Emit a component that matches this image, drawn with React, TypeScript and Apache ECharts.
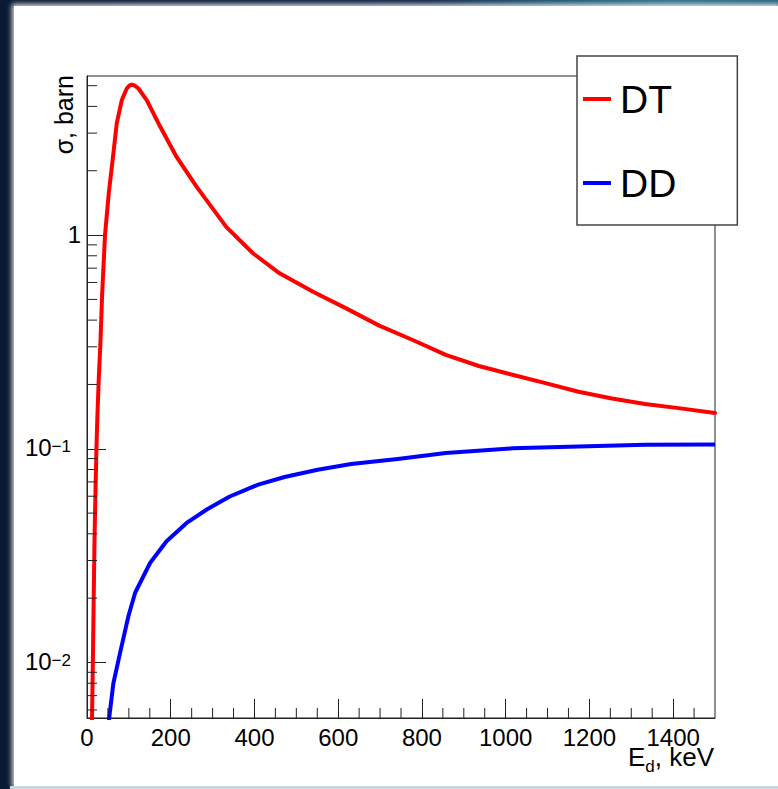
import React, { useEffect, useRef } from 'react';
import * as echarts from 'echarts';

// DT cross section (red)
const energyDT = [10, 12, 14, 16, 18, 20, 22.5, 25, 28, 32, 36, 43, 52, 63, 71, 83, 95, 101, 107, 114, 123, 143, 175, 214, 262, 333, 397, 460, 540, 619, 698, 778, 857, 936, 1016, 1095, 1174, 1254, 1333, 1413, 1500];
const sigmaDT = [0.003, 0.0055, 0.01, 0.02, 0.038, 0.06, 0.1, 0.145, 0.21, 0.31, 0.52, 1.0, 1.57, 2.41, 3.33, 4.27, 4.85, 5.0, 5.06, 5.0, 4.85, 4.27, 3.21, 2.32, 1.68, 1.09, 0.82, 0.662, 0.543, 0.454, 0.377, 0.323, 0.275, 0.244, 0.222, 0.203, 0.185, 0.172, 0.162, 0.155, 0.147];

// DD cross section (blue)
const energyDD = [50, 53, 63, 79, 99, 115, 151, 190, 238, 286, 341, 409, 472, 551, 631, 742, 857, 1016, 1174, 1333, 1500];
const sigmaDD = [0.0048, 0.0055, 0.008, 0.0111, 0.0165, 0.0212, 0.0293, 0.0369, 0.045, 0.052, 0.0598, 0.068, 0.0738, 0.0798, 0.0849, 0.0895, 0.0955, 0.1005, 0.1025, 0.1044, 0.1046];

const seriesNames = ['DT', 'DD'];

// axis ranges and minor ticks
const xMin = 0;
const xMax = 1500;
const xInterval = 200;
const yMin = 0.0055;
const yMax = 5.55;
const xMinorTicks = [50, 100, 150, 250, 300, 350, 450, 500, 550, 650, 700, 750, 850, 900, 950, 1050, 1100, 1150, 1250, 1300, 1350, 1450];
const yMinorTicks = [0.006, 0.007, 0.008, 0.009, 0.02, 0.03, 0.04, 0.05, 0.06, 0.07, 0.08, 0.09, 0.2, 0.3, 0.4, 0.5, 0.6, 0.7, 0.8, 0.9, 2, 3, 4, 5];

const xTitleMain = 'E';
const xTitleSub = 'd';
const xTitleRest = ', keV';
const yTitle = '\u03c3, barn';

const FONT = "'Liberation Sans', Arial, Helvetica, sans-serif";
const AXIS = '#222';

function measure(text: string, size: number): number {
  const c = document.createElement('canvas');
  const ctx = c.getContext('2d');
  if (!ctx) return text.length * size * 0.55;
  ctx.font = `${size}px ${FONT}`;
  return ctx.measureText(text).width;
}

export default function App() {
  const ref = useRef<HTMLDivElement>(null);

  useEffect(() => {
    if (!ref.current) return;
    const chart = echarts.init(ref.current, null, { renderer: 'svg' });

    const yLabel = (v: number) => {
      const l = Math.log10(v);
      const e = Math.round(l);
      if (Math.abs(l - e) > 1e-6) return '';
      if (e === 0) return '{n|1}';
      return '{n|10}{s|\u2212' + Math.abs(e) + '}';
    };

    // x title pieces (right aligned at the plot's right edge)
    const titleSize = 26;
    const subSize = 17;
    const right = 714;
    const baseline = 766;
    const wRest = measure(xTitleRest, titleSize);
    const wSub = measure(xTitleSub, subSize);
    const midMain = baseline - 0.3465 * titleSize;
    const midSub = baseline + 6 - 0.3465 * subSize;

    chart.setOption({
      animation: false,
      backgroundColor: 'transparent',
      grid: {
        left: 87,
        top: 76,
        right: 63,
        bottom: 71,
        show: true,
        borderColor: AXIS,
        borderWidth: 1,
        backgroundColor: 'transparent',
        containLabel: false,
        outerBoundsMode: 'none',
      },
      xAxis: {
        type: 'value',
        min: xMin,
        max: xMax,
        interval: xInterval,
        axisLine: { show: true, onZero: false, lineStyle: { color: AXIS, width: 1 } },
        axisTick: { show: true, inside: true, length: 19, lineStyle: { color: AXIS, width: 1 } },
        axisLabel: {
          fontSize: 24,
          lineHeight: 18,
          color: '#000',
          fontFamily: FONT,
          margin: 10,
          showMaxLabel: false,
          formatter: (v: number) => String(v),
        },
        splitLine: { show: false },
      },
      yAxis: {
        type: 'log',
        logBase: 10,
        min: yMin,
        max: yMax,
        axisLine: { show: true, lineStyle: { color: AXIS, width: 1 } },
        axisTick: { show: true, inside: true, length: 19, lineStyle: { color: AXIS, width: 1 } },
        axisLabel: {
          margin: 6,
          showMinLabel: false,
          showMaxLabel: false,
          formatter: yLabel,
          rich: {
            n: { fontSize: 24, lineHeight: 22, fontFamily: FONT, color: '#000', padding: [5, 0, 0, 0], verticalAlign: 'bottom' },
            s: { fontSize: 17, lineHeight: 16, fontFamily: FONT, color: '#000', padding: [0, 10, 0, 0], verticalAlign: 'top' },
          },
        },
        splitLine: { show: false },
        minorTick: { show: false },
      },
      legend: {
        data: seriesNames,
        orient: 'vertical',
        left: 577,
        top: 56,
        icon: 'rect',
        itemWidth: 28,
        itemHeight: 4,
        itemGap: 44,
        padding: [23, 61, 22, 6],
        backgroundColor: '#fff',
        borderColor: '#444',
        borderWidth: 1.5,
        selectedMode: false,
        textStyle: { fontSize: 39, color: '#000', fontFamily: FONT, lineHeight: 40, padding: [0, 0, 0, 4] },
        z: 10,
      },
      graphic: [
        {
          type: 'text',
          x: 64,
          y: 75,
          rotation: Math.PI / 2,
          style: { text: yTitle, fontSize: 25, fontFamily: FONT, fill: '#000', align: 'right', verticalAlign: 'middle' },
        },
        {
          type: 'text',
          x: right,
          y: midMain,
          style: { text: xTitleRest, fontSize: titleSize, fontFamily: FONT, fill: '#000', align: 'right', verticalAlign: 'middle' },
        },
        {
          type: 'text',
          x: right - wRest,
          y: midSub,
          style: { text: xTitleSub, fontSize: subSize, fontFamily: FONT, fill: '#000', align: 'right', verticalAlign: 'middle' },
        },
        {
          type: 'text',
          x: right - wRest - wSub,
          y: midMain,
          style: { text: xTitleMain, fontSize: titleSize, fontFamily: FONT, fill: '#000', align: 'right', verticalAlign: 'middle' },
        },
      ],
      series: [
        {
          name: seriesNames[0],
          type: 'line',
          data: energyDT.map((e, i) => [e, sigmaDT[i]]),
          showSymbol: false,
          symbol: 'none',
          smooth: false,
          clip: true,
          color: '#ff0000',
          lineStyle: { color: '#ff0000', width: 4, join: 'round', cap: 'round' },
          z: 2,
        },
        {
          name: seriesNames[1],
          type: 'line',
          data: energyDD.map((e, i) => [e, sigmaDD[i]]),
          showSymbol: false,
          symbol: 'none',
          smooth: false,
          clip: true,
          color: '#0000ff',
          lineStyle: { color: '#0000ff', width: 4, join: 'round' },
          z: 2,
        },
        {
          type: 'custom',
          coordinateSystem: 'cartesian2d',
          silent: true,
          data: yMinorTicks.map((v) => [xMin, v]),
          encode: { x: 0, y: 1 },
          renderItem: (_p: any, api: any) => {
            const p = api.coord([xMin, api.value(1)]);
            return {
              type: 'line',
              shape: { x1: p[0], y1: p[1], x2: p[0] + 10, y2: p[1] },
              style: { stroke: AXIS, lineWidth: 1 },
            };
          },
          z: 3,
        },
        {
          type: 'custom',
          coordinateSystem: 'cartesian2d',
          silent: true,
          data: xMinorTicks.map((v) => [v, yMin]),
          encode: { x: 0, y: 1 },
          renderItem: (_p: any, api: any) => {
            const p = api.coord([api.value(0), yMin]);
            return {
              type: 'line',
              shape: { x1: p[0], y1: p[1], x2: p[0], y2: p[1] - 10 },
              style: { stroke: AXIS, lineWidth: 1 },
            };
          },
          z: 3,
        },
      ],
    });

    return () => chart.dispose();
  }, []);

  return (
    <div style={{ position: 'absolute', left: 0, top: 0, width: 778, height: 789, overflow: 'hidden', background: '#0b1a34' }}>
      <div
        style={{
          position: 'absolute', left: 0, top: 0, width: 778, height: 10,
          background: 'linear-gradient(to right, #0b1a34 0%, #0e2443 55%, #1b5570 72%, #2c6d88 86%, #22607a 100%)',
        }}
      />
      <div
        style={{
          position: 'absolute', left: 14, top: 6, width: 764, height: 780, background: '#fff',
          boxShadow: '0 0 5px 2px rgba(255,255,255,0.85)',
        }}
      />
      <div style={{ position: 'absolute', left: 10, top: 786, width: 768, height: 3, background: '#cbd6de' }} />
      <div ref={ref} style={{ position: 'absolute', left: 0, top: 0, width: 778, height: 789 }} />
    </div>
  );
}
